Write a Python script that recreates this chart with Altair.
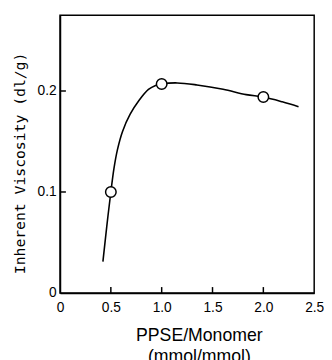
import altair as alt
import pandas as pd

# Smooth curve
curve_x = [0.422, 0.460, 0.500, 0.530, 0.565, 0.615, 0.690, 0.780, 0.870, 0.940, 1.000,
           1.154, 1.347, 1.604, 1.831, 2.000, 2.186, 2.346]
curve_y = [0.031, 0.066, 0.100, 0.123, 0.142, 0.160, 0.177, 0.191, 0.2015, 0.2055, 0.207,
           0.208, 0.206, 0.2017, 0.1964, 0.194, 0.1893, 0.1845]

# Measured points (open circles)
point_x = [0.5, 1.0, 2.0]
point_y = [0.100, 0.207, 0.194]

# Axis ticks
x_ticks = [0, 0.5, 1.0, 1.5, 2.0, 2.5]
y_ticks = [0, 0.1, 0.2]

curve_df = pd.DataFrame({"x": curve_x, "y": curve_y})
point_df = pd.DataFrame({"x": point_x, "y": point_y})
xt_df = pd.DataFrame({"x": [v for v in x_ticks if 0 < v < 2.5]})
yt_df = pd.DataFrame({"y": [v for v in y_ticks if v > 0]})

lab_expr = "datum.value == 0 ? '0' : format(datum.value, '.1f')"

xenc = alt.X(
    "x:Q",
    scale=alt.Scale(domain=[0, 2.5], nice=False, zero=False),
    axis=alt.Axis(
        values=x_ticks, ticks=False, grid=False, labelExpr=lab_expr,
        labelFont="Liberation Sans", labelFontSize=14, labelColor="black",
        labelPadding=8, labelFlush=False,
        domainColor="black", domainWidth=1.5,
        title=["PPSE/Monomer", "(mmol/mmol)"],
        titleFont="Liberation Sans", titleFontSize=18, titleFontWeight="normal",
        titleColor="black", titleX=141.5, titleY=34, titleAlign="center",
        titleBaseline="top", titleLineHeight=22,
    ),
)
yenc = alt.Y(
    "y:Q",
    scale=alt.Scale(domain=[0, 0.275], nice=False, zero=False),
    axis=alt.Axis(
        values=y_ticks, ticks=False, grid=False, labelExpr=lab_expr,
        labelFont="Liberation Sans", labelFontSize=14, labelColor="black",
        labelPadding=4, labelFlush=False,
        domainColor="black", domainWidth=1.5,
        title="Inherent Viscosity (dl/g)",
        titleFont="DejaVu Sans Mono", titleFontSize=15, titleFontWeight="normal",
        titleColor="black", titleAngle=270, titleX=-41, titleY=150.5,
        titleAlign="center", titleBaseline="middle",
    ),
)

line = alt.Chart(curve_df).mark_line(
    interpolate="catmull-rom", color="black", strokeWidth=1.6
).encode(x=xenc, y=yenc)

points = alt.Chart(point_df).mark_point(
    shape="circle", filled=True, fill="white", stroke="black",
    strokeWidth=1.5, size=115, opacity=1
).encode(x=xenc, y=yenc)

xticks = alt.Chart(xt_df).mark_rule(color="black", strokeWidth=1.5).encode(
    x=xenc, y=alt.value(283), y2=alt.value(277)
)
yticks = alt.Chart(yt_df).mark_rule(color="black", strokeWidth=1.5).encode(
    y=yenc, x=alt.value(0), x2=alt.value(6)
)

chart = alt.layer(line, xticks, yticks, points).properties(
    width=259, height=283,
    autosize=alt.AutoSizeParams(type="none"),
    padding={"left": 53, "top": 4, "right": 10, "bottom": 70},
    background="white",
).configure_view(stroke="black", strokeWidth=1.5)

chart.save("out.html", embed_options={"renderer": "svg", "actions": False})
